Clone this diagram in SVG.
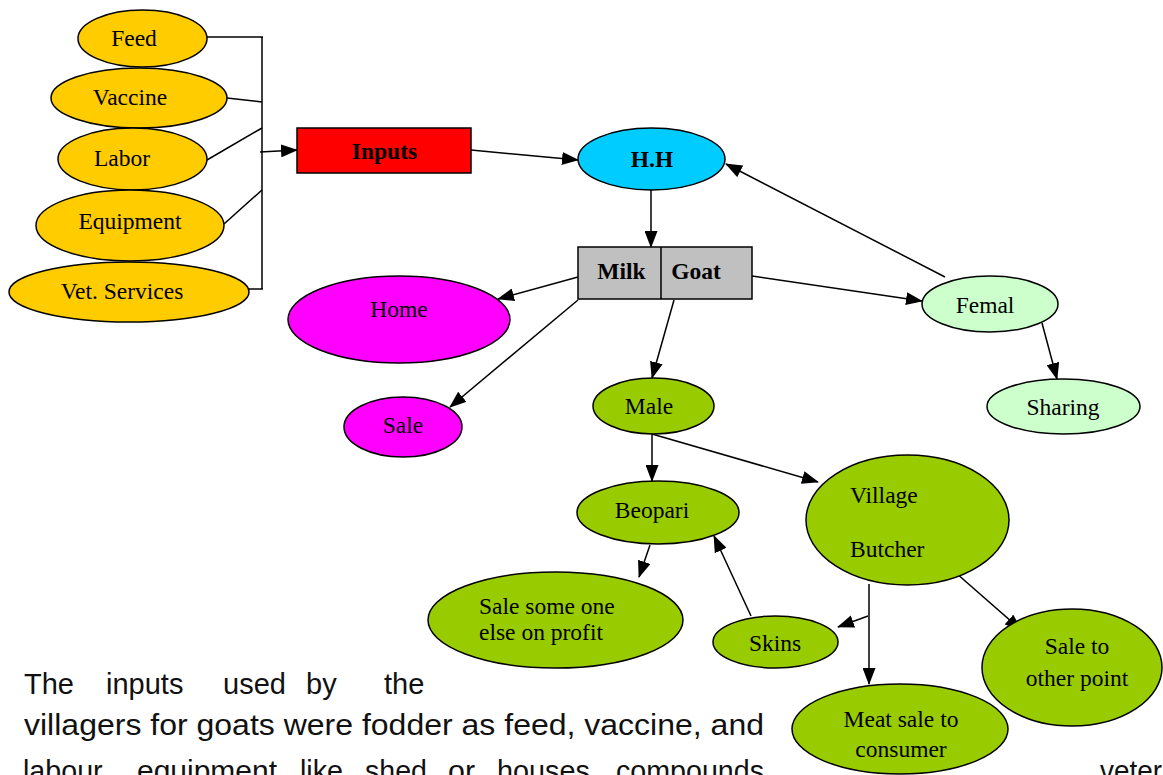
<svg xmlns="http://www.w3.org/2000/svg" width="1163" height="775" viewBox="0 0 1163 775">
  <style>
    .node { stroke: #000; stroke-width: 1.5; }
    .gold { fill: #FFCC00; }
    .mag { fill: #FF00FF; }
    .grn { fill: #99CC00; }
    .pale { fill: #CCFFCC; }
    .lbl { font-family: "Liberation Serif", "Times New Roman", serif; font-size: 23.5px; fill: #000; }
    .mid { text-anchor: middle; }
    .bold { font-weight: bold; }
    .edge { fill: none; stroke: #000; stroke-width: 1.5; }
    .para { font-family: "Liberation Sans", Arial, sans-serif; font-size: 29px; fill: #111; }
  </style>
  <defs>
    <marker id="arr" markerUnits="userSpaceOnUse" markerWidth="17" markerHeight="13" refX="16" refY="6.5" orient="auto">
      <path d="M0,0 L17,6.5 L0,13 z" fill="#000"/>
    </marker>
  </defs>

  <rect width="1163" height="775" fill="#fff"/>

  <!-- connectors -->
  <g id="connectors">
    <!-- input bracket -->
    <line class="edge" x1="262" y1="37" x2="262" y2="289"/>
    <line class="edge" x1="207" y1="37" x2="263" y2="37"/>
    <line class="edge" x1="227" y1="98" x2="262" y2="102"/>
    <line class="edge" x1="207" y1="160" x2="262" y2="128"/>
    <line class="edge" x1="224" y1="224" x2="262" y2="190"/>
    <line class="edge" x1="249" y1="289" x2="263" y2="289"/>
    <line class="edge" x1="260" y1="152" x2="297" y2="150" marker-end="url(#arr)"/>
    <!-- main flow -->
    <line class="edge" x1="471" y1="150" x2="578" y2="160" marker-end="url(#arr)"/>
    <line class="edge" x1="651" y1="190" x2="651" y2="247" marker-end="url(#arr)"/>
    <line class="edge" x1="945" y1="277" x2="726" y2="164" marker-end="url(#arr)"/>
    <line class="edge" x1="578" y1="277" x2="498" y2="299" marker-end="url(#arr)"/>
    <line class="edge" x1="578" y1="300" x2="450" y2="407" marker-end="url(#arr)"/>
    <line class="edge" x1="674" y1="300" x2="652" y2="378" marker-end="url(#arr)"/>
    <line class="edge" x1="752" y1="276" x2="922" y2="301" marker-end="url(#arr)"/>
    <line class="edge" x1="1042" y1="323" x2="1057" y2="379" marker-end="url(#arr)"/>
    <line class="edge" x1="652" y1="434" x2="652" y2="481" marker-end="url(#arr)"/>
    <line class="edge" x1="652" y1="434" x2="818" y2="482" marker-end="url(#arr)"/>
    <line class="edge" x1="650" y1="545" x2="639" y2="577" marker-end="url(#arr)"/>
    <line class="edge" x1="751" y1="616" x2="714" y2="536" marker-end="url(#arr)"/>
    <line class="edge" x1="869" y1="584" x2="869" y2="684" marker-end="url(#arr)"/>
    <line class="edge" x1="868" y1="616" x2="838" y2="627" marker-end="url(#arr)"/>
    <line class="edge" x1="956" y1="573" x2="1021" y2="630" marker-end="url(#arr)"/>
  </g>

  <!-- inputs -->
  <g id="feed">
    <ellipse class="node gold" cx="142.5" cy="38.5" rx="64.5" ry="28.5"/>
    <text class="lbl mid" x="134" y="46">Feed</text>
  </g>
  <g id="vaccine">
    <ellipse class="node gold" cx="139" cy="98" rx="88" ry="30"/>
    <text class="lbl mid" x="130" y="105">Vaccine</text>
  </g>
  <g id="labor">
    <ellipse class="node gold" cx="132.5" cy="159" rx="74.5" ry="31"/>
    <text class="lbl mid" x="122" y="166">Labor</text>
  </g>
  <g id="equipment">
    <ellipse class="node gold" cx="130" cy="225.5" rx="94" ry="35.5"/>
    <text class="lbl mid" x="130" y="229">Equipment</text>
  </g>
  <g id="vet-services">
    <ellipse class="node gold" cx="129" cy="292" rx="120" ry="30"/>
    <text class="lbl mid" x="122" y="299">Vet. Services</text>
  </g>

  <g id="inputs">
    <rect class="node" x="297" y="128" width="174" height="45" fill="#FF0000"/>
    <text class="lbl mid bold" x="384.5" y="159">Inputs</text>
  </g>

  <g id="hh">
    <ellipse class="node" cx="651.5" cy="159" rx="73.5" ry="31" fill="#00CCFF"/>
    <text class="lbl mid bold" x="652" y="167">H.H</text>
  </g>

  <g id="milk-goat">
    <rect class="node" x="578" y="247" width="174" height="52" fill="#C0C0C0"/>
    <line class="node" x1="661" y1="247" x2="661" y2="299"/>
    <text class="lbl mid bold" x="621.5" y="279">Milk</text>
    <text class="lbl mid bold" x="696" y="279">Goat</text>
  </g>

  <g id="home">
    <ellipse class="node mag" cx="399" cy="319.5" rx="111" ry="43.5"/>
    <text class="lbl mid" x="399" y="317">Home</text>
  </g>
  <g id="sale">
    <ellipse class="node mag" cx="403" cy="427" rx="59" ry="30"/>
    <text class="lbl mid" x="403" y="433">Sale</text>
  </g>

  <g id="femal">
    <ellipse class="node pale" cx="990" cy="304" rx="68" ry="28"/>
    <text class="lbl mid" x="985" y="313">Femal</text>
  </g>
  <g id="sharing">
    <ellipse class="node pale" cx="1063.5" cy="406.5" rx="76.5" ry="27.5"/>
    <text class="lbl mid" x="1063" y="415">Sharing</text>
  </g>

  <g id="male">
    <ellipse class="node grn" cx="653.5" cy="406" rx="60.5" ry="28"/>
    <text class="lbl mid" x="649" y="414">Male</text>
  </g>
  <g id="beopari">
    <ellipse class="node grn" cx="658" cy="512.5" rx="81" ry="31.5"/>
    <text class="lbl mid" x="652" y="518">Beopari</text>
  </g>
  <g id="village-butcher">
    <ellipse class="node grn" cx="907.5" cy="520" rx="101.5" ry="65"/>
    <text class="lbl" x="850" y="503">Village</text>
    <text class="lbl" x="850" y="557">Butcher</text>
  </g>
  <g id="sale-profit">
    <ellipse class="node grn" cx="555.5" cy="620" rx="127.5" ry="48"/>
    <text class="lbl" x="479" y="614">Sale some one</text>
    <text class="lbl" x="479" y="640">else on profit</text>
  </g>
  <g id="skins">
    <ellipse class="node grn" cx="775.5" cy="642" rx="62.5" ry="26"/>
    <text class="lbl mid" x="775" y="651">Skins</text>
  </g>
  <g id="sale-other-point">
    <ellipse class="node grn" cx="1072" cy="667.5" rx="90" ry="58.5"/>
    <text class="lbl mid" x="1077" y="654">Sale to</text>
    <text class="lbl mid" x="1077" y="686">other point</text>
  </g>
  <g id="meat-sale">
    <ellipse class="node grn" cx="900" cy="729" rx="108" ry="45"/>
    <text class="lbl mid" x="901" y="727">Meat sale to</text>
    <text class="lbl mid" x="901" y="757">consumer</text>
  </g>

  <!-- paragraph below the chart (justified words, last line runs off the page) -->
  <g id="paragraph" class="para">
    <text x="24" y="694">The</text>
    <text x="106" y="694">inputs</text>
    <text x="223" y="694">used</text>
    <text x="306" y="694">by</text>
    <text x="384" y="694">the</text>
    <text x="24" y="735" textLength="740" lengthAdjust="spacingAndGlyphs">villagers for goats were fodder as feed, vaccine, and</text>
    <text x="23" y="781" textLength="86" lengthAdjust="spacingAndGlyphs">labour,</text>
    <text x="137" y="781" textLength="140" lengthAdjust="spacingAndGlyphs">equipment</text>
    <text x="300" y="781" textLength="43" lengthAdjust="spacingAndGlyphs">like</text>
    <text x="365" y="781" textLength="62" lengthAdjust="spacingAndGlyphs">shed</text>
    <text x="448" y="781" textLength="27" lengthAdjust="spacingAndGlyphs">or</text>
    <text x="497" y="781" textLength="93" lengthAdjust="spacingAndGlyphs">houses</text>
    <text x="616" y="781" textLength="148" lengthAdjust="spacingAndGlyphs">compounds</text>
    <text x="1100" y="781" textLength="62" lengthAdjust="spacingAndGlyphs">veter</text>
  </g>
</svg>
